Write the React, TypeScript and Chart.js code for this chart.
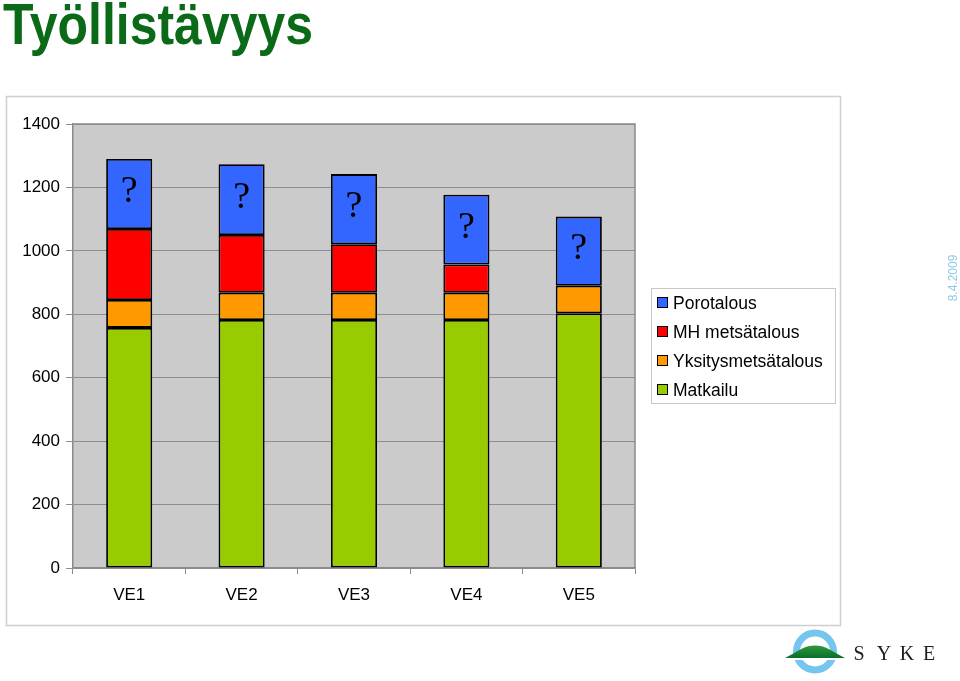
import React, { useEffect, useRef } from "react";
import { Chart, registerables } from "chart.js";

Chart.register(...registerables);

const categories = ["VE1", "VE2", "VE3", "VE4", "VE5"];
const matkailu = [757, 782, 782, 782, 803];
const yksitys = [88, 86, 86, 86, 87];
const mhMetsa = [224, 182, 153, 89, 0];
const porotalous = [221, 223, 221, 220, 218];
const questionLabels = ["?", "?", "?", "?", "?"];
const yTicks = [0, 200, 400, 600, 800, 1000, 1200, 1400];

const FONT = "'Liberation Sans', Arial, sans-serif";

const decorPlugin = {
  id: "decor",
  beforeDraw(chart: any) {
    const { ctx, chartArea } = chart;
    ctx.save();
    ctx.fillStyle = "#ffffff";
    ctx.fillRect(0, 0, chart.width, chart.height);
    ctx.strokeStyle = "#cfcfcf";
    ctx.lineWidth = 1.5;
    ctx.strokeRect(6.5, 96.5, 834, 529);
    ctx.fillStyle = "#cbcbcb";
    ctx.fillRect(chartArea.left, chartArea.top, chartArea.right - chartArea.left, chartArea.bottom - chartArea.top);
    ctx.restore();
  },
  afterDatasetsDraw(chart: any) {
    const { ctx, chartArea } = chart;
    ctx.save();
    ctx.strokeStyle = "#8a8a8a";
    ctx.lineWidth = 1.5;
    ctx.beginPath();
    ctx.moveTo(chartArea.left, chartArea.top);
    ctx.lineTo(chartArea.right, chartArea.top);
    ctx.lineTo(chartArea.right, chartArea.bottom);
    ctx.stroke();

    // question marks
    const meta = chart.getDatasetMeta(3);
    ctx.fillStyle = "#000000";
    ctx.font = "38px 'Liberation Serif', 'Times New Roman', serif";
    ctx.textAlign = "center";
    ctx.textBaseline = "alphabetic";
    meta.data.forEach((el: any, i: number) => {
      const cy = (el.y + el.base) / 2;
      ctx.fillText(questionLabels[i], el.x, cy + 8);
    });

    // legend
    ctx.fillStyle = "#ffffff";
    ctx.fillRect(651, 288, 184, 115);
    ctx.strokeStyle = "#c8c8c8";
    ctx.lineWidth = 1;
    ctx.strokeRect(651.5, 288.5, 184, 115);
    const items = [
      { label: chart.data.datasets[3].label, color: chart.data.datasets[3].backgroundColor },
      { label: chart.data.datasets[2].label, color: chart.data.datasets[2].backgroundColor },
      { label: chart.data.datasets[1].label, color: chart.data.datasets[1].backgroundColor },
      { label: chart.data.datasets[0].label, color: chart.data.datasets[0].backgroundColor },
    ];
    ctx.font = `17.5px ${FONT}`;
    ctx.textAlign = "left";
    ctx.textBaseline = "middle";
    items.forEach((it, i) => {
      const y = 303 + i * 29;
      ctx.fillStyle = it.color;
      ctx.fillRect(657.5, y - 5.5, 10, 10);
      ctx.strokeStyle = "#000";
      ctx.strokeRect(657.5, y - 5.5, 10, 10);
      ctx.fillStyle = "#000";
      ctx.fillText(it.label, 673, y + 1);
    });

    // title
    ctx.fillStyle = "#0b6a17";
    ctx.font = `bold 57px ${FONT}`;
    ctx.textAlign = "left";
    ctx.textBaseline = "alphabetic";
    const title = "Työllistävyys";
    const w = ctx.measureText(title).width;
    ctx.save();
    ctx.translate(3, 44);
    ctx.scale(310 / w, 1);
    ctx.fillText(title, 0, 0);
    ctx.restore();

    // date
    ctx.save();
    ctx.translate(957, 278);
    ctx.rotate(-Math.PI / 2);
    ctx.fillStyle = "#8ccbe8";
    ctx.font = `12px ${FONT}`;
    ctx.textAlign = "center";
    ctx.textBaseline = "alphabetic";
    ctx.fillText("8.4.2009", 0, 0);
    ctx.restore();

    // SYKE logo
    const cx = 815, cy = 651.5;
    ctx.beginPath();
    ctx.arc(cx, cy, 18.5, 0, Math.PI * 2);
    ctx.strokeStyle = "#74c6ee";
    ctx.lineWidth = 7;
    ctx.stroke();
    ctx.fillStyle = "#ffffff";
    ctx.fillRect(785, 657, 60, 3);
    const grad = ctx.createLinearGradient(0, 645, 0, 658);
    grad.addColorStop(0, "#2e9a3e");
    grad.addColorStop(1, "#0b6e2a");
    ctx.fillStyle = grad;
    ctx.beginPath();
    ctx.moveTo(785, 658);
    ctx.bezierCurveTo(800, 650, 805, 645.5, 815, 645.5);
    ctx.bezierCurveTo(825, 645.5, 830, 650, 845, 658);
    ctx.closePath();
    ctx.fill();
    ctx.fillStyle = "#1e1e1e";
    ctx.font = "20px 'Liberation Serif', 'Times New Roman', serif";
    ctx.textAlign = "center";
    ctx.textBaseline = "alphabetic";
    const letters = ["S", "Y", "K", "E"];
    const lx = [859, 884, 907, 929];
    letters.forEach((l, i) => ctx.fillText(l, lx[i], 660));
    ctx.restore();
  },
};

export default function App() {
  const ref = useRef<HTMLCanvasElement>(null);
  useEffect(() => {
    if (!ref.current) return;
    const mk = (label: string, data: number[], color: string) => ({
      label,
      data,
      backgroundColor: color,
      borderColor: "#000000",
      borderWidth: 1.8,
      borderSkipped: false,
      categoryPercentage: 1,
      barPercentage: 0.41,
    });
    const chart = new Chart(ref.current, {
      type: "bar",
      data: {
        labels: categories,
        datasets: [
          mk("Matkailu", matkailu, "#99cc00"),
          mk("Yksitysmetsätalous", yksitys, "#ff9900"),
          mk("MH metsätalous", mhMetsa, "#ff0000"),
          mk("Porotalous", porotalous, "#3366ff"),
        ] as any,
      },
      options: {
        responsive: false,
        animation: false,
        layout: { padding: { left: 0, top: 124, right: 325, bottom: 0 } },
        plugins: { legend: { display: false }, tooltip: { enabled: false } },
        scales: {
          x: {
            stacked: true,
            afterFit: (s: any) => { s.height = 113; },
            grid: { drawOnChartArea: false, color: "#8a8a8a", tickLength: 6, offset: true },
            border: { color: "#8a8a8a", width: 1.5 },
            ticks: { color: "#000", font: { family: FONT, size: 17 }, padding: 11 },
          },
          y: {
            stacked: true,
            min: 0,
            max: 1400,
            afterFit: (s: any) => { s.width = 73; },
            afterBuildTicks: (s: any) => { s.ticks = yTicks.map((v) => ({ value: v })); },
            grid: { color: "#8e8e8e", tickLength: 7, lineWidth: 1 },
            border: { color: "#8a8a8a", width: 1.5 },
            ticks: {
              color: "#000",
              font: { family: FONT, size: 17 },
              padding: 6,
              callback: (v: any) => String(v),
            },
          },
        },
      },
      plugins: [decorPlugin],
    });
    return () => chart.destroy();
  }, []);
  return (
    <canvas
      ref={ref}
      width={960}
      height={681}
      style={{ position: "absolute", left: 0, top: 0, width: 960, height: 681 }}
    />
  );
}
